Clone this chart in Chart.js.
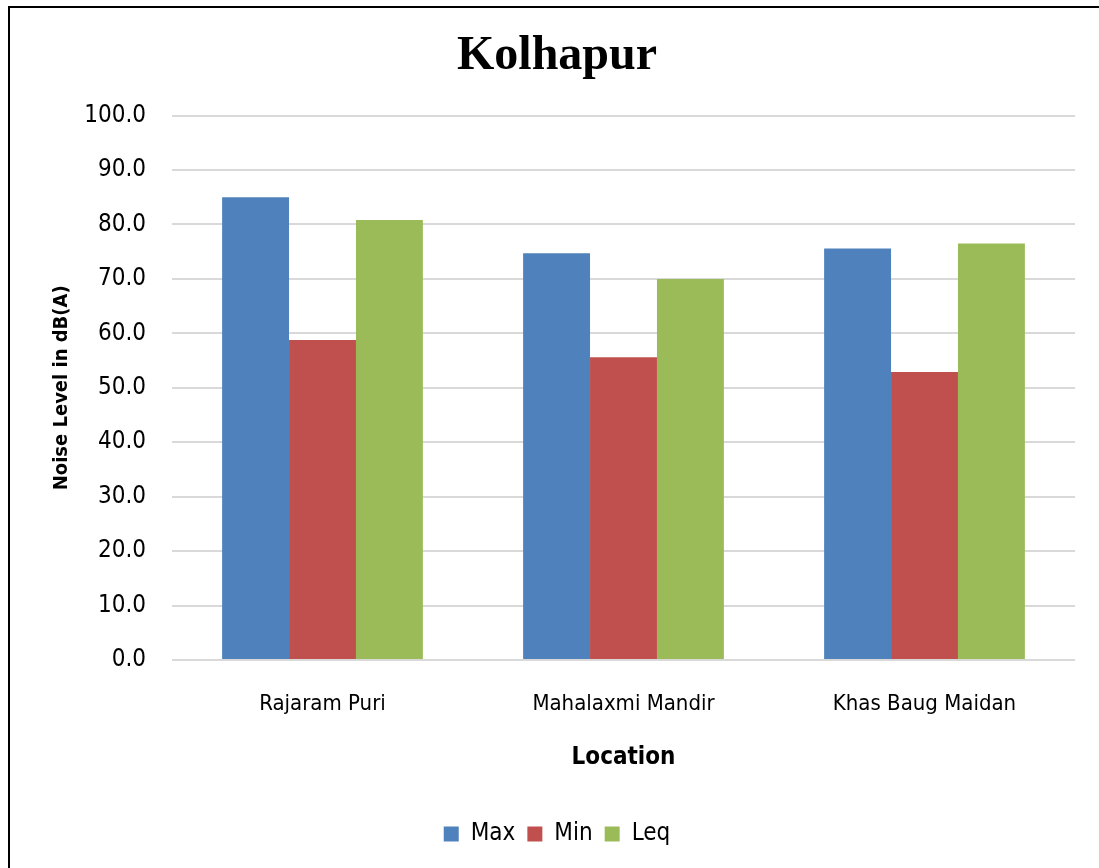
<!DOCTYPE html>
<html>
<head>
<meta charset="utf-8">
<script src="https://cdn.jsdelivr.net/npm/chart.js@4.4.1/dist/chart.umd.min.js"></script>
<style>
    html, body { margin: 0; padding: 0; background: #fff; overflow: hidden; }
    #wrap { position: relative; width: 1099px; height: 868px; }
    #frame {
        position: absolute; left: 8px; top: 6px; width: 2000px; height: 2000px;
        border-left: 2px solid #000; border-top: 2px solid #000; pointer-events: none;
    }
</style>
</head>
<body>
<div id="wrap">
    <canvas id="noiseChart" width="1099" height="868"></canvas>
    <div id="frame"></div>
</div>
<script>
// Chart data
const locations = ['Rajaram Puri', 'Mahalaxmi Mandir', 'Khas Baug Maidan'];
const maxValues = [85.0, 74.7, 75.6];
const minValues = [58.8, 55.6, 52.9];
const leqValues = [80.8, 70.0, 76.5];

const narrowFont = '"Liberation Sans Narrow", "DejaVu Sans Condensed", "Roboto Condensed", sans-serif';

Chart.defaults.font.family = narrowFont;
Chart.defaults.color = '#000';

const ctx = document.getElementById('noiseChart').getContext('2d');

new Chart(ctx, {
    type: 'bar',
    data: {
        labels: locations,
        datasets: [
            { label: 'Max', data: maxValues, backgroundColor: '#4F81BD' },
            { label: 'Min', data: minValues, backgroundColor: '#C0504D' },
            { label: 'Leq', data: leqValues, backgroundColor: '#9BBB59' }
        ]
    },
    options: {
        responsive: false,
        animation: false,
        // left padding chosen so the title centres where the original one does
        layout: { padding: { left: 39, right: 24, top: 0, bottom: 12 } },
        datasets: {
            bar: { categoryPercentage: 0.667, barPercentage: 1.0 }
        },
        scales: {
            x: {
                grid: { display: false },
                border: { display: false },
                ticks: { padding: 23, font: { size: 22 } },
                title: {
                    display: true,
                    text: 'Location',
                    font: { size: 24, weight: 'bold' },
                    padding: { bottom: 38 }
                },
                afterFit: function(scale) { scale.height = 150; }
            },
            y: {
                min: 0,
                max: 100,
                border: { display: false },
                grid: { color: '#d9d9d9', lineWidth: 2, drawTicks: false },
                ticks: {
                    stepSize: 10,
                    padding: 26,
                    font: { size: 24 },
                    callback: value => value.toFixed(1)
                },
                title: {
                    display: true,
                    text: 'Noise Level in dB(A)',
                    font: { size: 20, weight: 'bold' },
                    padding: { top: 11 }
                },
                afterFit: function(scale) { scale.width = 133; }
            }
        },
        plugins: {
            title: {
                display: true,
                text: 'Kolhapur',
                font: { family: '"Liberation Serif", "Times New Roman", serif', size: 48, weight: 'bold' },
                padding: { top: 28, bottom: 30 }
            },
            legend: {
                position: 'bottom',
                labels: {
                    boxWidth: 15,
                    boxHeight: 15,
                    padding: 12,
                    font: { size: 24 }
                }
            },
            tooltip: { enabled: false }
        }
    }
});
</script>
</body>
</html>
